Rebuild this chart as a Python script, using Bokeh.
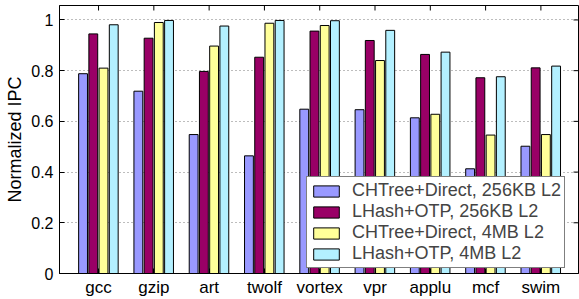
import numpy as np
from bokeh.plotting import figure
from bokeh.models import ColumnDataSource, Range1d, FixedTicker, Legend, LegendItem
from bokeh.transform import dodge
from bokeh.embed import file_html
from bokeh.resources import INLINE

categories = ["gcc", "gzip", "art", "twolf", "vortex", "vpr", "applu", "mcf", "swim"]
chtree_256k = [0.788, 0.719, 0.548, 0.464, 0.648, 0.646, 0.614, 0.413, 0.502]
lhash_256k = [0.945, 0.928, 0.797, 0.853, 0.956, 0.919, 0.864, 0.772, 0.811]
chtree_4m = [0.810, 0.990, 0.897, 0.987, 0.978, 0.840, 0.628, 0.546, 0.548]
lhash_4m = [0.981, 0.998, 0.976, 0.998, 0.997, 0.959, 0.873, 0.776, 0.818]
series_names = ["CHTree+Direct, 256KB L2", "LHash+OTP, 256KB L2",
                "CHTree+Direct, 4MB L2", "LHash+OTP, 4MB L2"]
y_ticks = [0, 0.2, 0.4, 0.6, 0.8, 1.0]
y_tick_labels = ["0", "0.2", "0.4", "0.6", "0.8", "1"]

colors = ["#9999ff", "#990066", "#ffff99", "#b3f0ff"]
offsets = [-0.28, -0.095, 0.09, 0.275]
FONT = "Liberation Sans"
X0, X1 = 0.294, 9.68
Y0, Y1 = 0.0, 1.057

pos = list(range(1, len(categories) + 1))
src = ColumnDataSource(dict(x=pos, s0=chtree_256k, s1=lhash_256k, s2=chtree_4m, s3=lhash_4m))

p = figure(width=579, height=299, output_backend="svg", toolbar_location=None,
           x_range=Range1d(X0, X1), y_range=Range1d(Y0, Y1),
           min_border_left=59, min_border_right=1, min_border_top=5, min_border_bottom=26)
p.background_fill_color = "white"
p.border_fill_color = "white"
p.outline_line_color = "black"
p.outline_line_width = 1

p.xgrid.grid_line_color = None
p.ygrid.ticker = FixedTicker(ticks=y_ticks)
p.ygrid.grid_line_color = "#7a7a7a"
p.ygrid.grid_line_dash = "1 3"
p.ygrid.grid_line_width = 1

renderers = []
for i, key in enumerate(["s0", "s1", "s2", "s3"]):
    r = p.vbar(x=dodge("x", offsets[i]), top=key, width=0.16, bottom=0, source=src,
               fill_color=colors[i], line_color="black", line_width=1)
    renderers.append(r)

# inward tick marks on the top and right frame edges (half of each dash is clipped)
p.scatter(x=pos, y=[Y1] * len(pos), marker="dash", angle=np.pi / 2, size=10,
          line_color="black", line_width=1)
p.scatter(x=[X1] * len(y_ticks), y=y_ticks, marker="dash", size=10,
          line_color="black", line_width=1)

# x axis (bottom)
p.xaxis.ticker = FixedTicker(ticks=pos)
p.xaxis.major_label_overrides = {k: v for k, v in zip(pos, categories)}
p.xaxis.major_tick_in = 5
p.xaxis.major_tick_out = 0
p.xaxis.minor_tick_line_color = None
p.xaxis.major_label_text_font = FONT
p.xaxis.major_label_text_font_size = "17px"
p.xaxis.major_label_text_color = "black"
p.xaxis.major_label_standoff = 4
p.xaxis.axis_line_color = "black"

# y axis (left)
p.yaxis.ticker = FixedTicker(ticks=y_ticks)
p.yaxis.major_label_overrides = {k: v for k, v in zip(y_ticks, y_tick_labels)}
p.yaxis.major_tick_in = 5
p.yaxis.major_tick_out = 0
p.yaxis.minor_tick_line_color = None
p.yaxis.major_label_text_font = FONT
p.yaxis.major_label_text_font_size = "16px"
p.yaxis.major_label_text_color = "black"
p.yaxis.major_label_standoff = 6
p.yaxis.axis_label = "Normalized IPC"
p.yaxis.axis_label_text_font = FONT
p.yaxis.axis_label_text_font_size = "18px"
p.yaxis.axis_label_text_font_style = "normal"
p.yaxis.axis_label_text_color = "black"
p.yaxis.axis_label_standoff = 3
p.yaxis.axis_line_color = "black"

legend = Legend(items=[LegendItem(label=series_names[i], renderers=[renderers[i]]) for i in range(4)],
                location=(247, 5), margin=0, padding=3, spacing=0,
                label_text_font=FONT, label_text_font_size="18px", label_text_line_height=1.0,
                label_height=19, glyph_width=32, glyph_height=14, label_standoff=10,
                border_line_color="black", border_line_width=1,
                background_fill_color="white", background_fill_alpha=1)
p.add_layout(legend)

open("out.html", "w").write(file_html(p, INLINE))
